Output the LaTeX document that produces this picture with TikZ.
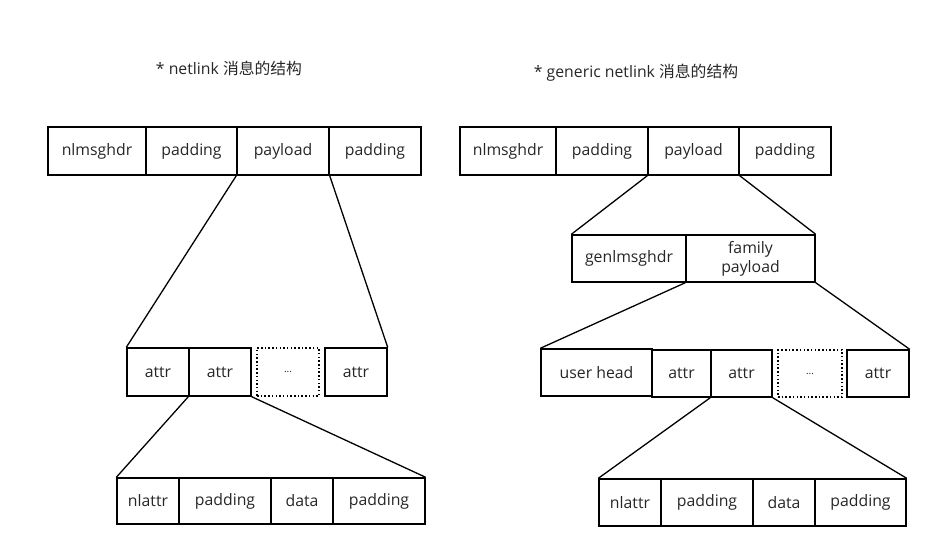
\documentclass[tikz,border=0pt]{standalone}
\usepackage{fontspec}
\setmainfont{Open Sans}
\newfontfamily\cjk{Noto Sans CJK SC}
\usetikzlibrary{positioning}
\tikzset{
  cell/.style={draw,line width=1.4pt,inner sep=0pt,text=black!85,font=\fontsize{15.8}{18}\selectfont,align=center},
  dcell/.style={cell,dash pattern=on 1.5pt off 2.2pt},
  link/.style={line width=1.3pt},
  ttl/.style={font=\fontsize{15.8}{18}\selectfont,text=black!85,inner sep=0pt},
}
\begin{document}
\begin{tikzpicture}[x=1pt,y=-1pt]
  \useasboundingbox (0,0) rectangle (941,558);
  % titles
  \node[ttl] (ltitle) at (229,68) {* netlink {\cjk 消息的结构}};
  \node[ttl] (rtitle) at (636,73) {* generic netlink {\cjk 消息的结构}};
  % ---- netlink message ----
  \node[cell,minimum width=98pt,minimum height=48pt] (lhdr) at (97,151) {nlmsghdr};
  \node[cell,minimum width=91pt,minimum height=48pt] (lpad1) at (191.5,151) {padding};
  \node[cell,minimum width=92pt,minimum height=48pt] (lpay) at (283,151) {payload};
  \node[cell,minimum width=92pt,minimum height=48pt] (lpad2) at (375,151) {padding};
  % attributes
  \node[cell,minimum width=62pt,minimum height=48pt] (lat1) at (158,372) {attr};
  \node[cell,minimum width=62pt,minimum height=48pt] (lat2) at (220,372) {attr};
  \node[dcell,minimum width=62pt,minimum height=48pt] (ldots) at (288,372) {\fontsize{10}{10}\selectfont ...};
  \node[cell,minimum width=62pt,minimum height=48pt] (lat3) at (356,372) {attr};
  \draw[link] (lpay.south west) -- (lat1.north west);
  \draw[link] (lpay.south east) -- (lat3.north east);
  % one attribute
  \node[cell,minimum width=62pt,minimum height=46pt] (lnla) at (148,501) {nlattr};
  \node[cell,minimum width=92pt,minimum height=46pt] (lpad3) at (225,501) {padding};
  \node[cell,minimum width=62pt,minimum height=46pt] (ldata) at (302,501) {data};
  \node[cell,minimum width=92pt,minimum height=46pt] (lpad4) at (379,501) {padding};
  \draw[link] (lat2.south west) -- (lnla.north west);
  \draw[link] (lat2.south east) -- (lpad4.north east);
  % ---- generic netlink message ----
  \node[cell,minimum width=96pt,minimum height=48pt] (rhdr) at (508,151) {nlmsghdr};
  \node[cell,minimum width=92pt,minimum height=48pt] (rpad1) at (602,151) {padding};
  \node[cell,minimum width=91pt,minimum height=48pt] (rpay) at (693.5,151) {payload};
  \node[cell,minimum width=92pt,minimum height=48pt] (rpad2) at (785,151) {padding};
  % generic header
  \node[cell,minimum width=114pt,minimum height=47pt] (gnhdr) at (629,258.5) {genlmsghdr};
  \node[cell,minimum width=129pt,minimum height=47pt,font=\fontsize{15.8}{19}\selectfont] (fpay) at (750.5,258.5) {family\\payload};
  \draw[link] (rpay.south west) -- (gnhdr.north west);
  \draw[link] (rpay.south east) -- (fpay.north east);
  % user head and attributes
  \node[cell,minimum width=111pt,minimum height=47pt] (uhead) at (596.5,372.5) {user head};
  \node[cell,minimum width=59pt,minimum height=47pt] (rat1) at (681.5,373.5) {attr};
  \node[cell,minimum width=61pt,minimum height=47pt] (rat2) at (741.5,373.5) {attr};
  \node[dcell,minimum width=64pt,minimum height=47pt] (rdots) at (810,373.5) {\fontsize{10}{10}\selectfont ...};
  \node[cell,minimum width=62pt,minimum height=47pt] (rat3) at (878,373.5) {attr};
  \draw[link] (fpay.south west) -- (uhead.north west);
  \draw[link] (fpay.south east) -- (rat3.north east);
  % one attribute
  \node[cell,minimum width=62pt,minimum height=47pt] (rnla) at (630,502.5) {nlattr};
  \node[cell,minimum width=92pt,minimum height=47pt] (rpad3) at (707,502.5) {padding};
  \node[cell,minimum width=62pt,minimum height=47pt] (rdata) at (784,502.5) {data};
  \node[cell,minimum width=91pt,minimum height=47pt] (rpad4) at (860.5,502.5) {padding};
  \draw[link] (rat2.south west) -- (rnla.north west);
  \draw[link] (rat2.south east) -- (rpad4.north east);
\end{tikzpicture}
\end{document}
